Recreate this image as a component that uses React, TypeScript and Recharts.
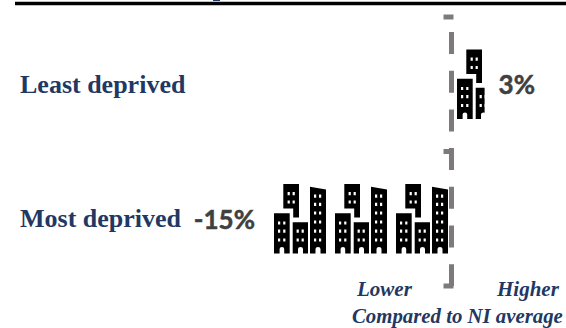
import React from "react";
import { BarChart, Bar, XAxis, YAxis, ReferenceLine, LabelList, Cell } from "recharts";

const categories = ["Least deprived", "Most deprived"];
const values = [3, -15];
const valueLabels = ["3%", "-15%"];
const sideLabels = ["Lower", "Higher"];
const axisCaption = "Compared to NI average";

const chartData = categories.map((name, i) => ({ name, value: values[i], label: valueLabels[i] }));

const NAVY = "#1f3864";
const SERIF = "'Liberation Serif', serif";
const SANS = "Lato, 'Open Sans', sans-serif";
const UNIT = 5; // one icon stands for 5 percentage points
const ICON_H = 70;
const ICON_LEAD = 9;

const r = (x: number, y: number, w: number, h: number) => `M${x} ${y}h${w}v${h}h${-w}z`;
const grid = (xs: number[], ys: number[]) =>
  xs.map((x) => ys.map((y) => r(x, y, 2.2, 3.2)).join("")).join("");

const ICON_PATH = [
  "M0 29.3H15.7V70H10.2V65Q10.2 63 8 63Q5.6 63 5.6 65V70H0Z",
  "M9.3 0H25V33.5H19.2V24.5H9.3Z",
  "M18.7 38.3H34V70H29V65Q29 63 26.5 63Q24 63 24 65V70H18.7Z",
  "M36 2.7L52 5.5V70H46.5V65Q46.5 63 44 63Q41.5 63 41.5 65V70H36Z",
  grid([4, 9.2], [37.4, 45.6, 54.4]),
  grid([13.6, 18.6], [8, 16.4]),
  grid([22.6, 27.6], [45.6, 54.4]),
  grid([40, 45], [10.6, 18.8, 27.4, 36.4, 45.6, 54.4]),
].join("");

function BuildingBar(props: any) {
  const { x, y, width, height, value } = props;
  const left = Math.min(x, x + width);
  const w = Math.abs(width);
  const pitch = (w / Math.abs(value)) * UNIT;
  const count = Math.ceil(w / pitch);
  const icons = Array.from({ length: count }, (_, i) => i);
  return (
    <svg x={left} y={y} width={w} height={height} style={{ overflow: "hidden" }}>
      {icons.map((i) => (
        <path
          key={i}
          transform={`translate(${ICON_LEAD + i * pitch} ${(height - ICON_H) / 2 + 0.5})`}
          d={ICON_PATH}
          fill="#000"
          fillRule="evenodd"
        />
      ))}
    </svg>
  );
}

function ZeroLine(props: any) {
  const x = props.x1 + 3.5;
  const top = Math.min(props.y1, props.y2);
  const bottom = Math.max(props.y1, props.y2);
  const ticks = [top, (top + bottom) / 2, bottom];
  return (
    <g stroke="#7f7a7a">
      <line x1={x} x2={x} y1={top} y2={bottom} strokeWidth={5} strokeDasharray="22 16.7" strokeDashoffset={23.7} />
      {ticks.map((t, i) => (
        <line key={i} x1={x - 8} x2={x + 2} y1={t} y2={t} strokeWidth={5} />
      ))}
    </g>
  );
}

function CategoryTick(props: any) {
  return (
    <text x={20} y={props.y + 8.5} fontFamily={SERIF} fontWeight="700" fontSize={26} fill={NAVY}>
      {props.payload.value}
    </text>
  );
}

function ValueLabel(props: any) {
  const { x, y, width, height, value, index } = props;
  const negative = values[index] < 0;
  const left = Math.min(x, x + width);
  const right = Math.max(x, x + width);
  return (
    <text
      x={negative ? left - 10 : right + 14}
      y={y + height / 2 + 10}
      textAnchor={negative ? "end" : "start"}
      fontFamily={SANS}
      fontWeight="700"
      fontSize={26}
      fill="#404040"
      stroke="#404040"
      strokeWidth={0.5}
    >
      {value}
    </text>
  );
}

export default function App() {
  return (
    <div style={{ position: "absolute", left: 0, top: 0, width: 566, height: 328, background: "#fff" }}>
      <BarChart
        width={566}
        height={328}
        data={chartData}
        layout="vertical"
        margin={{ top: 17, right: 8.2, bottom: 42, left: 0 }}
        barSize={ICON_H}
      >
        <XAxis type="number" domain={[-20, 9]} hide />
        <YAxis type="category" dataKey="name" width={204} axisLine={false} tickLine={false} tick={<CategoryTick />} />
        <Bar dataKey="value" isAnimationActive={false} shape={<BuildingBar />}>
          {chartData.map((d) => (
            <Cell key={d.name} fill="#000" />
          ))}
          <LabelList dataKey="label" content={<ValueLabel />} />
        </Bar>
        <ReferenceLine x={0} shape={<ZeroLine />} />
        <line x1={15} x2={566} y1={3.5} y2={3.5} stroke="#000" strokeWidth={3.5} />
        <line x1={213} x2={220} y1={0.5} y2={0.5} stroke={NAVY} strokeWidth={1} />
        <g fontFamily={SERIF} fontWeight="700" fontStyle="italic" fill={NAVY}>
          <text x={357} y={296} fontSize={21}>{sideLabels[0]}</text>
          <text x={497} y={296} fontSize={21}>{sideLabels[1]}</text>
          <text x={352} y={323} fontSize={20.8}>{axisCaption}</text>
        </g>
      </BarChart>
    </div>
  );
}
